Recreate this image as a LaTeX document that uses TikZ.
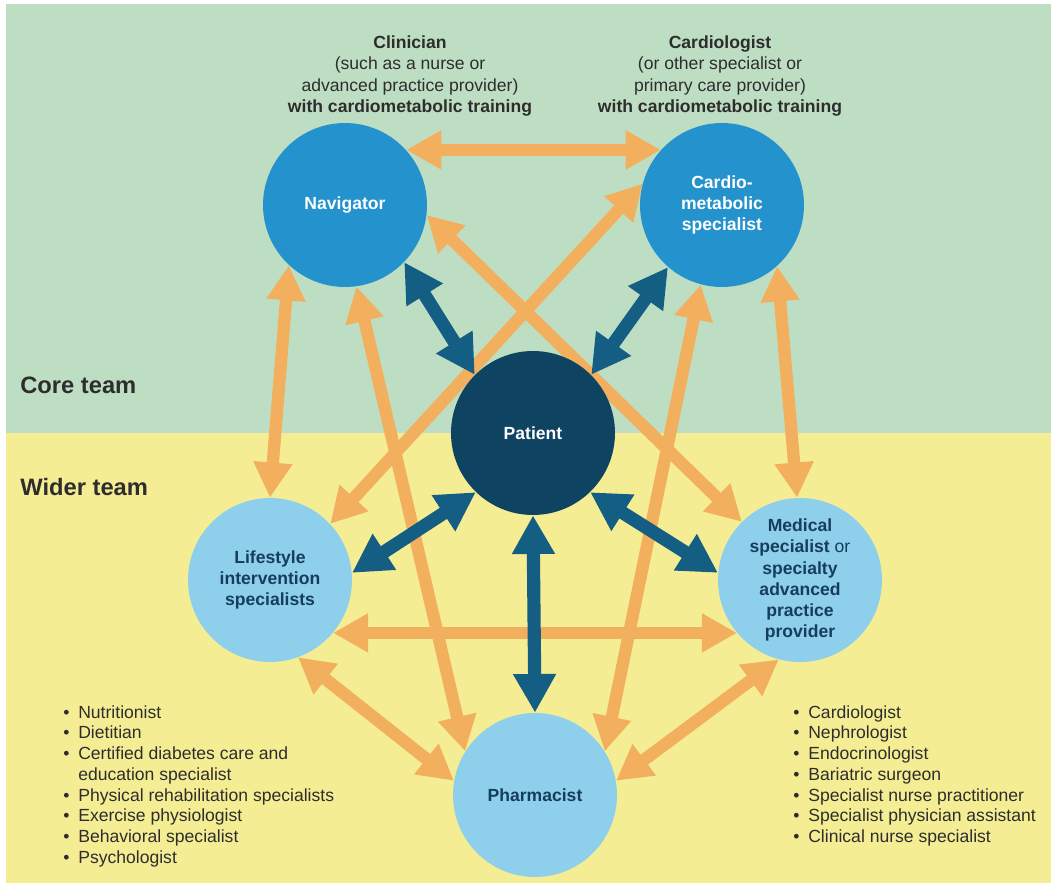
\documentclass[tikz,border=0pt]{standalone}
\usepackage{fontspec}
\setmainfont{Liberation Sans}
\usetikzlibrary{arrows.meta}
\definecolor{coregreen}{RGB}{190,222,196}
\definecolor{wideryellow}{RGB}{245,237,148}
\definecolor{linkorange}{RGB}{242,176,94}
\definecolor{linkdark}{RGB}{21,94,131}
\definecolor{patientblue}{RGB}{14,68,98}
\definecolor{coreblue}{RGB}{36,146,204}
\definecolor{widerblue}{RGB}{142,207,236}
\definecolor{membertext}{RGB}{22,62,92}
\definecolor{notegray}{RGB}{45,45,45}
\pgfdeclarelayer{back}
\pgfdeclarelayer{links}
\pgfsetlayers{back,links,main}
\tikzset{
  member/.style={circle, minimum size=3.28cm, inner sep=0pt, align=center,
    font=\bfseries\fontsize{10}{12}\selectfont},
  coremember/.style={member, fill=coreblue, text=white},
  widermember/.style={member, fill=widerblue, text=membertext},
  teamlink/.style={draw=linkorange, line width=7pt,
    {Triangle[length=20pt,width=21pt]}-{Triangle[length=20pt,width=21pt]}},
  patientlink/.style={draw=linkdark, line width=7.5pt,
    {Triangle[length=22pt,width=23pt]}-{Triangle[length=22pt,width=23pt]}},
  rolenote/.style={align=center, text=notegray, font=\fontsize{10}{12}\selectfont},
  teamlabel/.style={anchor=west, inner sep=0pt, text=notegray, font=\bfseries\fontsize{13.5}{15}\selectfont},
  listnote/.style={anchor=north west, inner sep=0pt, align=left, text=notegray,
    font=\fontsize{10}{11.8}\selectfont}
}
\begin{document}
\begin{tikzpicture}[x=0.02cm, y=-0.02cm]
  \useasboundingbox (0,0) rectangle (1051,889);
  \begin{pgfonlayer}{back}
    \fill[coregreen] (6,4) rectangle (1051,433);
    \fill[wideryellow] (6,433) rectangle (1051,883);
  \end{pgfonlayer}

  \node[coremember] (nav) at (345,205) {Navigator};
  \node[coremember] (cardio) at (722,205) {Cardio-\\metabolic\\specialist};
  \node[member, fill=patientblue, text=white] (patient) at (533,433) {Patient};
  \node[widermember] (life) at (270,580) {Lifestyle\\intervention\\specialists};
  \node[widermember] (med) at (800,580)
    {Medical\\specialist \mdseries or\\\bfseries specialty\\advanced\\practice\\provider};
  \node[widermember] (pharm) at (535,795) {Pharmacist};

  \node[rolenote] (navrole) at (410,76)
    {\textbf{Clinician}\\(such as a nurse or\\advanced practice provider)\\\textbf{with cardiometabolic training}};
  \node[rolenote] (cardiorole) at (720,76)
    {\textbf{Cardiologist}\\(or other specialist or\\primary care provider)\\\textbf{with cardiometabolic training}};

  \node[teamlabel] (core) at (20,385) {Core team};
  \node[teamlabel] (wider) at (20,487) {Wider team};

  \node[listnote] (lifelist) at (63,705)
    {\textbullet\hspace{5pt}Nutritionist\\
     \textbullet\hspace{5pt}Dietitian\\
     \textbullet\hspace{5pt}Certified diabetes care and\\
     \phantom{\textbullet}\hspace{5pt}education specialist\\
     \textbullet\hspace{5pt}Physical rehabilitation specialists\\
     \textbullet\hspace{5pt}Exercise physiologist\\
     \textbullet\hspace{5pt}Behavioral specialist\\
     \textbullet\hspace{5pt}Psychologist};
  \node[listnote] (medlist) at (793,705)
    {\textbullet\hspace{5pt}Cardiologist\\
     \textbullet\hspace{5pt}Nephrologist\\
     \textbullet\hspace{5pt}Endocrinologist\\
     \textbullet\hspace{5pt}Bariatric surgeon\\
     \textbullet\hspace{5pt}Specialist nurse practitioner\\
     \textbullet\hspace{5pt}Specialist physician assistant\\
     \textbullet\hspace{5pt}Clinical nurse specialist};

  \begin{pgfonlayer}{links}
    \draw[teamlink] (nav.42) -- (cardio.138);
    \draw[teamlink] (nav.227) -- (life.90);
    \draw[teamlink] (nav.278) -- (pharm.148);
    \draw[teamlink] (nav.353) -- (med.135);
    \draw[teamlink] (cardio.165) -- (life.43);
    \draw[teamlink] (cardio.255) -- (pharm.32);
    \draw[teamlink] (cardio.312) -- (med.92);
    \draw[teamlink] (life.320) -- (med.220);
    \draw[teamlink] (life.290) -- (pharm.170);
    \draw[teamlink] (med.255) -- (pharm.10);
    \draw[patientlink] (patient.135) -- (nav.316);
    \draw[patientlink] (patient.45) -- (cardio.229);
    \draw[patientlink] (patient.226) -- (life.5);
    \draw[patientlink] (patient.314) -- (med.175);
    \draw[patientlink] (patient.270) -- (pharm.90);
  \end{pgfonlayer}
\end{tikzpicture}
\end{document}
